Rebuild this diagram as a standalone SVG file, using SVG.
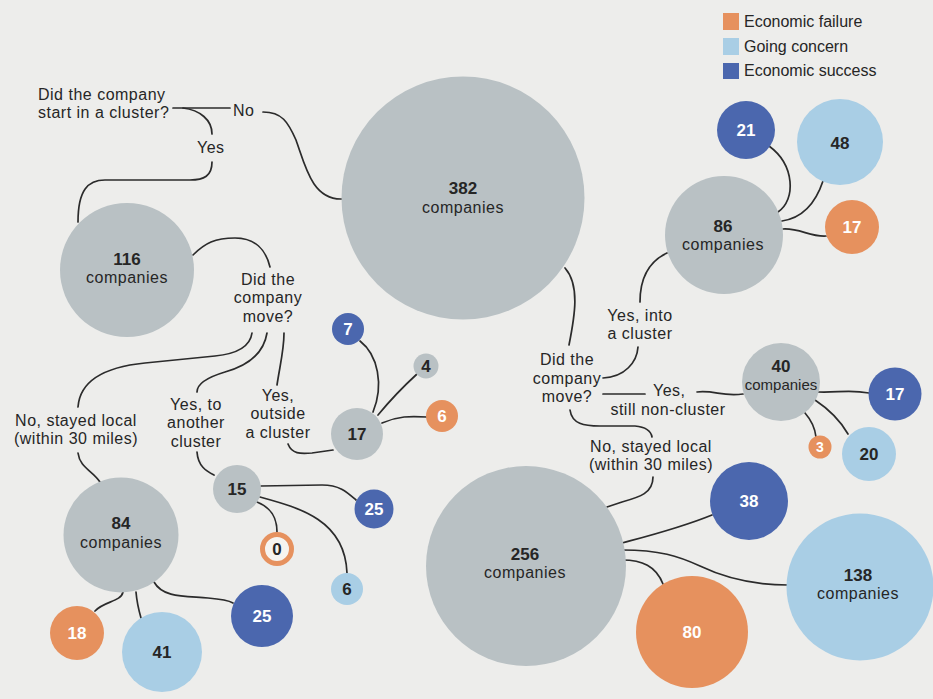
<svg xmlns="http://www.w3.org/2000/svg" width="933" height="699" viewBox="0 0 933 699">
<style>
text{font-family:"Liberation Sans",Arial,sans-serif;fill:#262626}
.lb{font-size:16px;letter-spacing:0.5px}
.num{font-size:17px;font-weight:bold;text-anchor:middle}
.cm{font-size:16px;letter-spacing:0.5px;text-anchor:middle}
.c{text-anchor:middle}
.w{fill:#ffffff}
.grey{fill:#b9c1c4}
.org{fill:#e6915e}
.lbl{fill:#a9cee5}
.dbl{fill:#4b67ae}
#connectors path{fill:none;stroke:#2b2b2b;stroke-width:1.7;stroke-linecap:round}
</style>
<rect width="933" height="699" fill="#ededeb"/>
<g id="connectors">
<path d="M173,108 L230,108"/>
<path d="M263,112 C282,112 288,122 296,140 C305,165 312,200 342,199"/>
<path d="M183,108 C200,110 212,120 212,134"/>
<path d="M212,162 C212,176 204,180 190,180 L105,180 C88,180 78,190 78,222"/>
<path d="M193,255 C205,243 215,238 235,238 C255,238 266,250 270,267"/>
<path d="M252,333 C250,348 235,354 215,356 L145,363 C105,367 80,380 78,407"/>
<path d="M267,333 C264,352 250,365 225,372 C205,378 197,385 197,392"/>
<path d="M284,333 C284,350 280,365 277,385"/>
<path d="M288,444 C292,454 300,454 312,453 L333,450"/>
<path d="M78,453 C80,468 92,470 100,482"/>
<path d="M197,452 C198,466 206,471 214,475"/>
<path d="M360,341 C378,355 384,385 373,412"/>
<path d="M378,415 C392,398 405,385 417,374"/>
<path d="M382,423 C398,416 410,416 427,417"/>
<path d="M261,486 L322,485 C340,485 347,492 356,500"/>
<path d="M260,497 C300,508 345,520 347,573"/>
<path d="M257,502 C272,508 277,518 277,532"/>
<path d="M123,592 C121,602 104,601 95,611"/>
<path d="M136,592 C137,604 139,611 141,618"/>
<path d="M154,582 C163,598 185,596 208,598 C220,599 228,600 233,603"/>
<path d="M565,268 C580,285 575,315 569,345"/>
<path d="M603,378 C625,377 637,362 638,347"/>
<path d="M640,302 C640,280 648,262 667,253"/>
<path d="M603,394 L645,394"/>
<path d="M697,392 C715,390 722,397 743,394"/>
<path d="M570,410 C572,424 584,426 600,426 L635,426 C646,427 651,431 652,437"/>
<path d="M653,477 C653,493 640,497 622,502 L607,507"/>
<path d="M622,543 C652,535 680,528 712,515"/>
<path d="M622,550 C660,550 678,556 700,566 C725,578 752,585 788,585"/>
<path d="M622,560 C642,560 656,566 663,584"/>
<path d="M778,212 C796,200 795,165 769,146"/>
<path d="M782,221 C802,218 815,205 823,181"/>
<path d="M783,229 C800,228 810,237 826,236"/>
<path d="M818,392 C838,393 848,389 869,393"/>
<path d="M805,413 C812,421 815,428 816,437"/>
<path d="M815,400 C830,410 840,420 848,434"/>
</g>
<g id="legend">
<rect x="723" y="13" width="16" height="17" class="org"/>
<rect x="723" y="38" width="16" height="17" class="lbl"/>
<rect x="723" y="63" width="16" height="16" class="dbl"/>
<text x="744" y="27" style="font-size:16px">Economic failure</text>
<text x="744" y="52" style="font-size:16px">Going concern</text>
<text x="744" y="76" style="font-size:16px">Economic success</text>
</g>
<g id="q-start">
<text class="lb" x="38" y="99.5">Did the company</text>
<text class="lb" x="38" y="118">start in a cluster?</text>
</g>
<g id="lbl-no"><text class="lb" x="233" y="116">No</text></g>
<g id="lbl-yes"><text class="lb" x="197" y="153">Yes</text></g>
<g id="n382">
<circle cx="463" cy="198" r="121.5" class="grey"/>
<text class="num" x="463" y="194">382</text>
<text class="cm" x="463" y="213">companies</text>
</g>
<g id="n116">
<circle cx="127" cy="270" r="67" class="grey"/>
<text class="num" x="127" y="264.5">116</text>
<text class="cm" x="127" y="283">companies</text>
</g>
<g id="q-move-left">
<text class="lb c" x="268" y="284.5">Did the</text>
<text class="lb c" x="268" y="303">company</text>
<text class="lb c" x="268" y="321.5">move?</text>
</g>
<g id="lbl-stayed-left">
<text class="lb c" x="76" y="425.5">No, stayed local</text>
<text class="lb c" x="76" y="444">(within 30 miles)</text>
</g>
<g id="lbl-another">
<text class="lb c" x="196" y="409.5">Yes, to</text>
<text class="lb c" x="196" y="428">another</text>
<text class="lb c" x="196" y="446.5">cluster</text>
</g>
<g id="lbl-outside">
<text class="lb c" x="278" y="400.5">Yes,</text>
<text class="lb c" x="278" y="419">outside</text>
<text class="lb c" x="278" y="437.5">a cluster</text>
</g>
<g id="n17g">
<circle cx="357" cy="434" r="26" class="grey"/>
<text class="num" x="357" y="440">17</text>
</g>
<g id="n7"><circle cx="348" cy="329" r="16" class="dbl"/><text class="num w" x="348" y="335">7</text></g>
<g id="n4"><circle cx="426" cy="366" r="12.5" class="grey"/><text class="num" x="426" y="372">4</text></g>
<g id="n6o"><circle cx="442" cy="416" r="16" class="org"/><text class="num w" x="442" y="422">6</text></g>
<g id="n15">
<circle cx="237" cy="489" r="24" class="grey"/>
<text class="num" x="237" y="495">15</text>
</g>
<g id="n25s"><circle cx="374" cy="509" r="19.5" class="dbl"/><text class="num w" x="374" y="515">25</text></g>
<g id="n6b"><circle cx="347" cy="589" r="16" class="lbl"/><text class="num" x="347" y="595">6</text></g>
<g id="n0"><circle cx="277" cy="549" r="14.5" fill="#f6f4f0" stroke="#e6915e" stroke-width="5"/><text class="num" x="277" y="555">0</text></g>
<g id="n84">
<circle cx="121" cy="535" r="57.5" class="grey"/>
<text class="num" x="121" y="529">84</text>
<text class="cm" x="121" y="547.5">companies</text>
</g>
<g id="n18"><circle cx="77" cy="633" r="27" class="org"/><text class="num w" x="77" y="639">18</text></g>
<g id="n41"><circle cx="162" cy="652" r="40" class="lbl"/><text class="num" x="162" y="658">41</text></g>
<g id="n25b"><circle cx="262" cy="616" r="31" class="dbl"/><text class="num w" x="262" y="622">25</text></g>
<g id="q-move-right">
<text class="lb c" x="567" y="365">Did the</text>
<text class="lb c" x="567" y="383.5">company</text>
<text class="lb c" x="567" y="402">move?</text>
</g>
<g id="lbl-into">
<text class="lb c" x="640" y="320.5">Yes, into</text>
<text class="lb c" x="640" y="339">a cluster</text>
</g>
<g id="lbl-still">
<text class="lb" x="653" y="396">Yes,</text>
<text class="lb c" x="668" y="414.5">still non-cluster</text>
</g>
<g id="lbl-stayed-right">
<text class="lb c" x="651" y="451.5">No, stayed local</text>
<text class="lb c" x="651" y="470">(within 30 miles)</text>
</g>
<g id="n86">
<circle cx="724" cy="235" r="59" class="grey"/>
<text class="num" x="723" y="231.5">86</text>
<text class="cm" x="723" y="250">companies</text>
</g>
<g id="n21"><circle cx="746" cy="130" r="29" class="dbl"/><text class="num w" x="746" y="136">21</text></g>
<g id="n48"><circle cx="840" cy="142" r="43" class="lbl"/><text class="num" x="840" y="149">48</text></g>
<g id="n17o"><circle cx="852" cy="227" r="27" class="org"/><text class="num w" x="852" y="233">17</text></g>
<g id="n40">
<circle cx="781" cy="382" r="39" class="grey"/>
<text class="num" x="781" y="372">40</text>
<text x="781" y="390" style="font-size:15px;text-anchor:middle">companies</text>
</g>
<g id="n17b"><circle cx="895" cy="394" r="26.5" class="dbl"/><text class="num w" x="895" y="400">17</text></g>
<g id="n3"><circle cx="820" cy="447" r="11.5" class="org"/><text class="num w" x="820" y="452" style="font-size:14px">3</text></g>
<g id="n20"><circle cx="869" cy="454" r="27" class="lbl"/><text class="num" x="869" y="460">20</text></g>
<g id="n256">
<circle cx="526" cy="566" r="100" class="grey"/>
<text class="num" x="525" y="559.5">256</text>
<text class="cm" x="525" y="578">companies</text>
</g>
<g id="n38"><circle cx="749" cy="501" r="39" class="dbl"/><text class="num w" x="749" y="507">38</text></g>
<g id="n138">
<circle cx="860" cy="587" r="73.5" class="lbl"/>
<text class="num" x="858" y="580.5">138</text>
<text class="cm" x="858" y="599">companies</text>
</g>
<g id="n80"><circle cx="692" cy="632" r="56" class="org"/><text class="num w" x="692" y="638">80</text></g>
</svg>
